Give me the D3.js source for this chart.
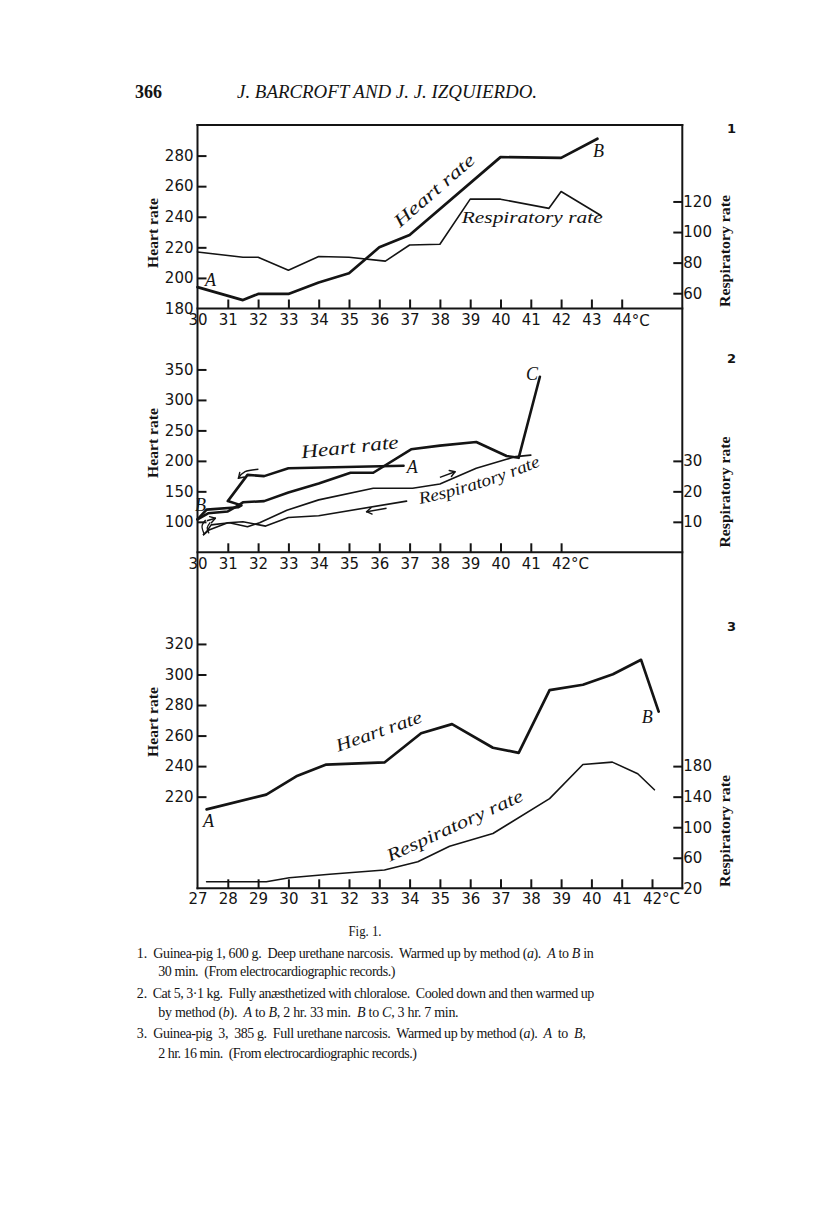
<!DOCTYPE html>
<html><head><meta charset="utf-8">
<script src="https://cdn.jsdelivr.net/npm/d3@7"></script>
<style>body{margin:0;background:#fff}svg{display:block}</style>
</head><body>
<svg id="c" width="816" height="1221"></svg>
<script>
// ---------- DATA ----------
// Panel 1 (Guinea-pig 1): [temperature °C, rate]
const p1XLabels = [30,31,32,33,34,35,36,37,38,39,40,41,42,43,44];
const p1HeartTicks = [180,200,220,240,260,280];
const p1RespTicks = [60,80,100,120];
const heart1 = [[30,194],[31.5,185.5],[32,189.5],[33,189.5],[34,197],[35,203],[36,220],[37,228],[40,279],[42,278.5],[43.2,291]];
const resp1 = [[30,87],[31.5,83.5],[32,83.5],[33,75],[34,84],[35,83.5],[36.2,81],[37,91.5],[38,92],[39,121.5],[40,121.5],[41.6,115.5],[42,126.5],[43.3,111]];

// Panel 2 (Cat 5)
const p2XLabels = [30,31,32,33,34,35,36,37,38,39,40,41,42];
const p2HeartTicks = [100,150,200,250,300,350];
const p2RespTicks = [10,20,30];
const heart2Cooling = [[36.8,192],[33,188],[32.2,175],[31.65,177],[31.0,134],[31.45,127],[31.35,124],[30.3,120],[30,104]];
const heart2Warming = [[30,104],[30.35,114],[31.0,117],[31.35,127],[31.5,132],[32.2,134],[33,148],[34,163],[35.05,180.5],[35.8,180.5],[37.05,219],[38,225],[39.2,231],[40.2,208],[40.6,205],[41.3,338]];
const resp2Cooling = [[36.9,16.8],[34,12],[33,11.4],[32.25,8.6],[31.5,10],[31,9.7],[30.4,7.4],[30.2,5.8]];
const resp2Warming = [[30.2,5.8],[30.3,6.8],[30.45,9],[31.05,9.7],[31.65,8.4],[32.05,9.7],[32.95,13.8],[34.0,17.2],[35.8,21],[37.1,21],[38.0,22.4],[39.2,27.6],[40.2,30.5],[40.5,31.4],[41.0,31.9]];
// direction arrows in panel 2 (heart-rate units)
const p2Arrows = [
  {pts:[[32.01,186.2],[31.57,182.2],[31.35,171.4]], curved:true},
  {pts:[[38.0,173],[38.5,182.2]]},
  {pts:[[36.24,122.2],[35.58,116.6]]},
  {pts:[[30.31,101.8],[30.59,105.8]]}
];
const p2Hooks = [[[30.27,103],[30.15,93],[30.22,80]],[[30.42,99],[30.32,90],[30.38,81]]];

// Panel 3 (Guinea-pig 3)
const p3XLabels = [27,28,29,30,31,32,33,34,35,36,37,38,39,40,41,42];
const p3HeartTicks = [220,240,260,280,300,320];
const p3RespTicks = [20,60,100,140,180];
const heart3 = [[27.3,211.7],[29.27,221.3],[30.26,233.3],[31.25,241],[33.17,242.4],[34.38,261.5],[35.4,267.5],[36.75,252],[37.6,248.7],[38.62,289.8],[39.72,293.3],[40.71,300.2],[41.64,309.6],[42.22,275.7]];
const resp3 = [[27.3,28.6],[29.27,28.6],[30.03,33.8],[31.36,38.3],[33.17,43.9],[34.27,54.7],[35.32,75],[36.75,91.7],[38.62,137.4],[39.72,182.2],[40.69,185.2],[41.53,170],[42.08,149]];

// ---------- LAYOUT ----------
const svg = d3.select('#c');
const INK = '#141414';
const X0 = 197.5, X1 = 682.3, YT = 125, YB1 = 308.5, YB2 = 552.3, YB3 = 888.3;

const x1 = d3.scaleLinear([30,46],[X0,X1]);
const y1L = d3.scaleLinear([180,300],[YB1,YT]);
const y1R = d3.scaleLinear([50,170],[YB1,YT]);
const x2 = d3.scaleLinear([30,46],[X0,X1]);
const y2L = d3.scaleLinear([50,450],[YB2,YB1]);
const y2R = d3.scaleLinear([0,80],[YB2,YB1]);
const x3 = d3.scaleLinear([27,43],[X0,X1]);
const y3L = d3.scaleLinear([160,380],[YB3,YB2]);
const y3R = d3.scaleLinear([20,460],[YB3,YB2]);

// frame
const frame = [[X0,YT,X1,YT],[X0,YT,X0,YB3],[X1,YT,X1,YB3],[X0,YB1,X1,YB1],[X0,YB2,X1,YB2],[X0,YB3,X1,YB3]];
svg.selectAll('line.frame').data(frame).join('line').attr('class','frame')
  .attr('x1',d=>d[0]).attr('y1',d=>d[1]).attr('x2',d=>d[2]).attr('y2',d=>d[3])
  .attr('stroke',INK).attr('stroke-width',2).attr('stroke-linecap','square');

function styleAxis(g, noTick){
  g.select('.domain').remove();
  g.attr('font-family',null).attr('font-size',null);
  g.selectAll('.tick line').attr('stroke',INK).attr('stroke-width',2);
  g.selectAll('.tick').filter(d=>noTick.includes(d)).select('line').remove();
  g.selectAll('.tick text').attr('font-family','DejaVu Sans').attr('font-size',15).attr('fill',INK);
}
function xAxis(scale, y, labels, noTick, pad){
  const g = svg.append('g').attr('transform',`translate(0,${y})`)
    .call(d3.axisBottom(scale).tickValues(labels).tickSize(-9).tickPadding(pad).tickFormat(d3.format('d')));
  styleAxis(g, noTick);
  const last = labels[labels.length-1];
  svg.append('text').attr('x',scale(last)+10).attr('y',y+pad+11)
    .attr('font-family','DejaVu Sans').attr('font-size',15).attr('fill',INK).text('°C');
}
function yLeft(scale, ticks, noTick){
  const g = svg.append('g').attr('transform',`translate(${X0},0)`)
    .call(d3.axisLeft(scale).tickValues(ticks).tickSize(-9).tickPadding(4).tickFormat(d3.format('d')));
  styleAxis(g, noTick);
}
function yRight(scale, ticks, noTick){
  const g = svg.append('g').attr('transform',`translate(${X1},0)`)
    .call(d3.axisRight(scale).tickValues(ticks).tickSize(-9).tickPadding(1).tickFormat(d3.format('d')));
  styleAxis(g, noTick);
}

xAxis(x1, YB1, p1XLabels, [30], 6);
xAxis(x2, YB2, p2XLabels, [30], 6);
xAxis(x3, YB3, p3XLabels, [27], 5);
yLeft(y1L, p1HeartTicks, [180]);
yLeft(y2L, p2HeartTicks, []);
yLeft(y3L, p3HeartTicks, []);
yRight(y1R, p1RespTicks, []);
yRight(y2R, p2RespTicks, []);
yRight(y3R, p3RespTicks, [20]);

// data lines
function drawLine(data, xs, ys, w){
  svg.append('path').datum(data)
    .attr('d', d3.line().x(d=>xs(d[0])).y(d=>ys(d[1])))
    .attr('fill','none').attr('stroke',INK).attr('stroke-width',w)
    .attr('stroke-linejoin','round').attr('stroke-linecap','round');
}
drawLine(heart1, x1, y1L, 2.7);
drawLine(resp1, x1, y1R, 1.6);
drawLine(heart2Cooling, x2, y2L, 2.6);
drawLine(heart2Warming, x2, y2L, 2.6);
drawLine(resp2Cooling, x2, y2R, 1.6);
drawLine(resp2Warming, x2, y2R, 1.6);
drawLine(heart3, x3, y3L, 2.7);
drawLine(resp3, x3, y3R, 1.6);

// arrows
p2Arrows.forEach(a=>{
  const P = a.pts.map(p=>[x2(p[0]), y2L(p[1])]);
  const gen = d3.line(); if(a.curved) gen.curve(d3.curveNatural);
  svg.append('path').attr('d',gen(P)).attr('fill','none').attr('stroke',INK).attr('stroke-width',1.4);
  const [ax,ay] = P[P.length-2], [bx,by] = P[P.length-1];
  const ang = Math.atan2(by-ay, bx-ax), L = 6;
  [Math.PI*0.82, -Math.PI*0.82].forEach(o=>{
    svg.append('line').attr('x1',bx).attr('y1',by)
      .attr('x2',bx+L*Math.cos(ang+o)).attr('y2',by+L*Math.sin(ang+o))
      .attr('stroke',INK).attr('stroke-width',1.4).attr('stroke-linecap','round');
  });
});
p2Hooks.forEach(h=>{
  svg.append('path').attr('d', d3.line().curve(d3.curveNatural)(h.map(p=>[x2(p[0]),y2L(p[1])])))
    .attr('fill','none').attr('stroke',INK).attr('stroke-width',1.3);
});

// text helpers
function label(x,y,str,o={}){
  const t = svg.append('text').attr('x',0).attr('y',0)
    .attr('transform',`translate(${x},${y}) rotate(${o.rot||0})`)
    .attr('font-family',o.family||'Liberation Serif')
    .attr('font-style',o.italic===false?'normal':'italic')
    .attr('font-weight',o.weight||'normal')
    .attr('font-size',o.size||17).attr('fill',INK)
    .attr('text-anchor',o.anchor||'start').text(str);
  if(o.len) t.attr('textLength',o.len).attr('lengthAdjust','spacingAndGlyphs');
  return t;
}
// panel 1 labels
label(400,228,'Heart rate',{rot:-41,size:18,len:101});
label(461.7,223,'Respiratory rate',{size:17,len:141});
label(205,286,'A',{size:18});
label(593,157,'B',{size:18});
// panel 2 labels
label(301.7,458.3,'Heart rate',{rot:-6,size:19,len:98});
label(406.7,473.3,'A',{size:18});
label(195,510.5,'B',{size:18});
label(526,380,'C',{size:18});
svg.append('path').attr('id','rp2').attr('d','M420,504 Q478,492 540,466').attr('fill','none');
svg.append('text').attr('font-family','Liberation Serif').attr('font-style','italic')
  .attr('font-size',17).attr('fill',INK)
  .append('textPath').attr('href','#rp2').attr('textLength',127).attr('lengthAdjust','spacingAndGlyphs')
  .text('Respiratory rate');
// panel 3 labels
label(338.3,751.7,'Heart rate',{rot:-19.4,size:18,len:90});
label(390,861.7,'Respiratory rate',{rot:-24.6,size:18,len:148});
label(203,826.5,'A',{size:18});
label(641.7,723,'B',{size:18});

// axis titles
const bold = {italic:false, weight:'bold', size:15, anchor:'middle'};
label(158,233,'Heart rate',{...bold,rot:-90,len:70});
label(158,443,'Heart rate',{...bold,rot:-90,len:70});
label(158,722,'Heart rate',{...bold,rot:-90,len:70});
label(730,251,'Respiratory rate',{...bold,rot:-90,len:112});
label(730,492,'Respiratory rate',{...bold,rot:-90,len:111});
label(730,831,'Respiratory rate',{...bold,rot:-90,len:112});

// panel numbers
[['1',133],['2',363],['3',631]].forEach(([n,y])=>{
  svg.append('text').attr('x',731.5).attr('y',y).attr('text-anchor','middle')
    .attr('font-family','DejaVu Sans').attr('font-weight','bold').attr('font-size',13).attr('fill',INK).text(n);
});

// header
label(135,98,'366',{italic:false,weight:'bold',size:18,len:27});
label(237,98,'J. BARCROFT AND J. J. IZQUIERDO.',{size:18,len:300});

// captions
label(365,936,'Fig. 1.',{italic:false,size:15,anchor:'middle',len:33});
function cap(x,y,parts,len){
  const t = svg.append('text').attr('x',x).attr('y',y).attr('font-family','Liberation Serif')
    .attr('font-size',14).attr('fill',INK).style('white-space','pre');
  parts.forEach(p=>{
    const s = t.append('tspan').text(typeof p==='string'?p:p[0]);
    if(typeof p!=='string') s.attr('font-style','italic');
  });
  if(len){
    const L = t.node().getComputedTextLength();
    const n = t.text().length;
    t.attr('letter-spacing', ((len - L) / n).toFixed(3));
  }
}
cap(136.7,958.3,['1.']);
cap(153.3,958.3,['Guinea-pig 1, 600 g.  Deep urethane narcosis.  Warmed up by method (',['a'],').  ',['A'],' to ',['B'],' in'],440);
cap(158.3,975.7,['30 min.  (From electrocardiographic records.)'],236.7);
cap(136.7,998.3,['2.']);
cap(152.7,998.3,['Cat 5, 3·1 kg.  Fully anæsthetized with chloralose.  Cooled down and then warmed up'],441);
cap(158.3,1016.7,['by method (',['b'],').  ',['A'],' to ',['B'],', 2 hr. 33 min.  ',['B'],' to ',['C'],', 3 hr. 7 min.'],300);
cap(136.7,1038.3,['3.']);
cap(153.3,1038.3,['Guinea-pig  3,  385 g.  Full urethane narcosis.  Warmed up by method (',['a'],').  ',['A'],'  to  ',['B'],','],432);
cap(158.3,1058.3,['2 hr. 16 min.  (From electrocardiographic records.)'],258);
</script>
</body></html>
